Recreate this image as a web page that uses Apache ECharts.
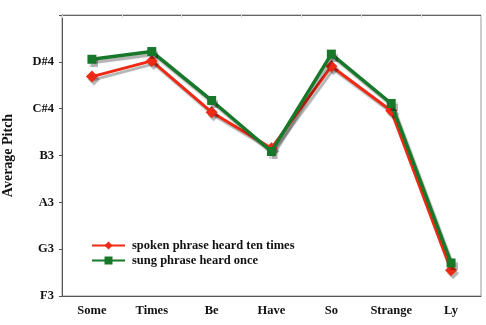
<!DOCTYPE html>
<html><head><meta charset="utf-8">
<script src="https://cdn.jsdelivr.net/npm/echarts@6/dist/echarts.min.js"></script>
<style>html,body{margin:0;padding:0;background:#fff}#c{width:486px;height:325px}</style>
</head><body><div id="c"></div>
<script>
const categories = ['Some','Times','Be','Have','So','Strange','Ly'];
// semitones above F3
const spoken = [9.37, 10.04, 7.85, 6.31, 9.81, 7.91, 1.10];
const sung = [10.11, 10.44, 8.35, 6.17, 10.33, 8.22, 1.41];
const tickLabels = {0:'F3',2:'G3',4:'A3',6:'B3',8:'C#4',10:'D#4',12:''};
const seriesNames = ['spoken phrase heard ten times','sung phrase heard once'];

const font = 'Liberation Serif';
const chart = echarts.init(document.getElementById('c'), null, {renderer:'canvas'});
const shadow = {shadowColor:'rgba(0,0,0,0.3)', shadowOffsetX:2, shadowOffsetY:3, shadowBlur:1};
chart.setOption({
  animation:false,
  grid:{left:62,right:5,top:15,bottom:29,show:true,borderColor:'#999',borderWidth:1,
        containLabel:false, outerBoundsMode:'none'},
  legend:{
    orient:'vertical', left:86, top:234, itemGap:2, itemWidth:33, itemHeight:10,
    textStyle:{fontFamily:font,fontWeight:'bold',fontSize:12.5,color:'#111',padding:[0,0,0,2]},
    data:seriesNames
  },
  xAxis:[{
    type:'category', data:categories, boundaryGap:true,
    axisLine:{lineStyle:{color:'#555',width:1}},
    axisTick:{show:false},
    axisLabel:{fontFamily:font,fontWeight:'bold',fontSize:12.5,color:'#111',margin:8}
  },{
    type:'category', data:categories, position:'top', boundaryGap:true,
    axisLine:{lineStyle:{color:'#666',width:1}},
    axisTick:{show:true,inside:true,length:3,lineStyle:{color:'#ddd'}},
    axisLabel:{show:false}
  }],
  yAxis:{
    type:'value', min:0, max:12, interval:2,
    name:'Average Pitch', nameLocation:'middle', nameGap:47,
    nameTextStyle:{fontFamily:font,fontWeight:'bold',fontSize:14,color:'#111'},
    axisLine:{show:true,lineStyle:{color:'#555',width:1}},
    axisTick:{show:true,length:3,lineStyle:{color:'#555'}},
    splitLine:{show:false},
    axisLabel:{fontFamily:font,fontWeight:'bold',fontSize:12.5,color:'#111',margin:8,
      formatter:v=>tickLabels[v]!==undefined?tickLabels[v]:''}
  },
  series:[{
    name:seriesNames[0], type:'line', data:spoken, symbol:'diamond', symbolSize:12,
    z:2,
    lineStyle:Object.assign({color:'#ee2a15',width:3},shadow),
    itemStyle:Object.assign({color:'#ee2a15'},shadow)
  },{
    name:seriesNames[1], type:'line', data:sung, symbol:'rect', symbolSize:9,
    z:3,
    lineStyle:Object.assign({color:'#18782a',width:3.5},shadow),
    itemStyle:Object.assign({color:'#18782a'},shadow)
  }]
});
</script></body></html>
